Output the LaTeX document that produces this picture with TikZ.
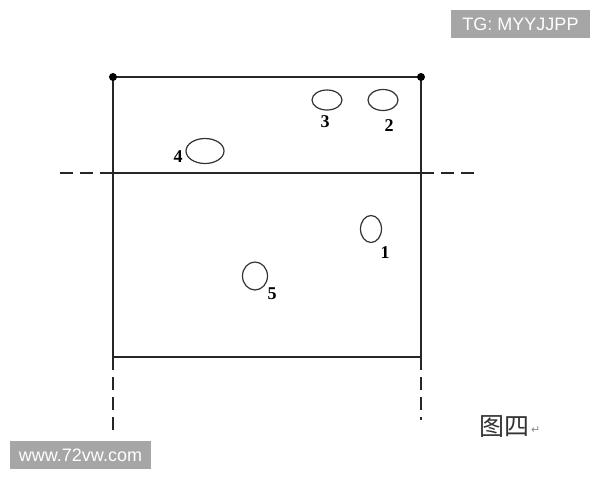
\documentclass[tikz,border=0pt]{standalone}
\usepackage{fontspec}
\usetikzlibrary{shapes.geometric}
\setmainfont{Liberation Serif}
\newfontfamily\cjk{Noto Sans CJK SC}
\newfontfamily\wmfont{Liberation Sans}
\newfontfamily\symfont{DejaVu Sans}
\begin{document}
\begin{tikzpicture}[x=1pt,y=-1pt,
  frame/.style={line width=1.8pt,black!85},
  dashln/.style={line width=1.8pt,black!85,dash pattern=on 13pt off 7pt},
  hole/.style={ellipse,draw,line width=1.2pt,black!80,inner sep=0pt},
  num/.style={font=\bfseries\fontsize{18}{18}\selectfont,inner sep=0pt},
  wm/.style={fill=black!35,text=white,font=\wmfont\fontsize{18}{18}\selectfont,inner sep=0pt,minimum height=28pt}]
\useasboundingbox (0,0) rectangle (600,480);
\fill[white] (0,0) rectangle (600,480);
% frame corners
\coordinate (tl) at (113,77);
\coordinate (tr) at (421,77);
\coordinate (bl) at (113,357);
\coordinate (br) at (421,357);
\coordinate (ml) at (113,173);
\coordinate (mr) at (421,173);
\coordinate (el) at (60,173);
\coordinate (er) at (475,173);
\coordinate (dl) at (113,432);
\coordinate (dr) at (421,420);
\draw[frame] (tl) -- (tr) -- (br) -- (bl) -- cycle;
\draw[frame] (ml) -- (mr);
\draw[dashln] (el) -- (ml);
\draw[dashln] (mr) -- (er);
\draw[dashln] (bl) -- (dl);
\draw[dashln] (br) -- (dr);
\fill (tl) circle (4pt);
\fill (tr) circle (4pt);
% holes
\node[hole,minimum width=30pt,minimum height=20pt] (h3) at (327,100) {};
\node[hole,minimum width=30pt,minimum height=21pt] (h2) at (383,100) {};
\node[hole,minimum width=38pt,minimum height=25pt] (h4) at (205,151) {};
\node[hole,minimum width=21pt,minimum height=27pt] (h1) at (371,229) {};
\node[hole,minimum width=25pt,minimum height=28pt] (h5) at (255,276) {};
\node[num] (n3) at (325,122) {3};
\node[num] (n2) at (389,126) {2};
\node[num] (n4) at (178,157) {4};
\node[num] (n1) at (385,253) {1};
\node[num] (n5) at (272,294) {5};
\node[font=\cjk\fontsize{25}{25}\selectfont,inner sep=0pt,black!80] (cap) at (504,427) {图四};
\node[font=\symfont\fontsize{11}{11}\selectfont,inner sep=0pt,black!45,anchor=west] (ret) at (531,430) {↵};
% watermarks
\node[wm,minimum width=139pt] (wm1) at (520.5,24) {TG: MYYJJPP};
\node[wm,minimum width=141pt] (wm2) at (80.5,455) {www.72vw.com};
\end{tikzpicture}
\end{document}
